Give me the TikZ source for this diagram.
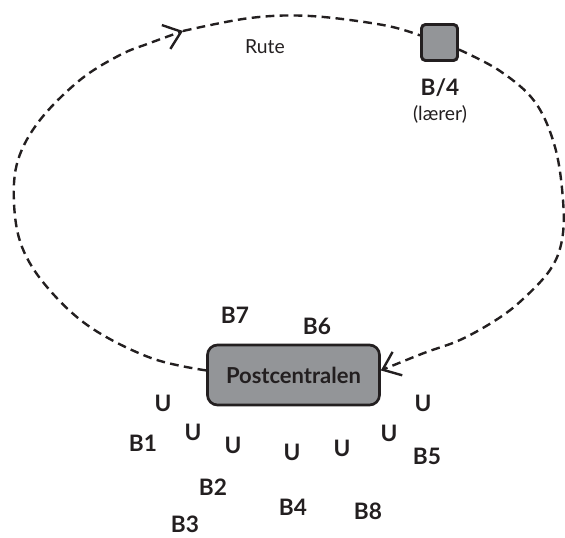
\documentclass[tikz,border=0pt]{standalone}
\usepackage{fontspec}
\setmainfont{Lato}
\usetikzlibrary{arrows.meta}
\definecolor{boxgray}{HTML}{939598}
\definecolor{ink}{HTML}{231F20}
\begin{document}
\begin{tikzpicture}[x=0.75pt,y=0.75pt,
  route/.style={draw=ink, dash pattern=on 6.5pt off 4pt, line width=1.8pt},
  tipend/.style={-{Straight Barb[length=12pt,width=19pt]}},
  lbl/.style={text=ink, font=\fontsize{17}{20}\selectfont\bfseries, inner sep=0pt},
  thin/.style={text=ink, font=\fontsize{14.5}{17}\selectfont, inner sep=0pt},
  pbox/.style={draw=ink, fill=boxgray, line width=2pt, rounded corners=7.5pt,
    minimum width=129pt, minimum height=45pt, text=ink,
    font=\fontsize{16.5}{19}\selectfont\bfseries},
  sqbox/.style={draw=ink, fill=boxgray, line width=2.2pt, rounded corners=3pt,
    minimum size=27pt, inner sep=0pt}]
\useasboundingbox (0,0) rectangle (565,537);

\node[pbox] (pc) at (293.5,162) {Postcentralen};
\node[sqbox] (sq) at (439.5,494.5) {};
\coordinate (t1) at (183,506);

% left half of the route, from the post office to the arrow
\draw[route,tipend] plot[smooth,tension=0.6] coordinates {(pc.177) (151,179) (90,210) (47,250) (22,290) (14,334) (18,377) (40,417) (80,457) (120,482) (150,494) (t1)};
\draw[route] plot[smooth,tension=0.6] coordinates {(t1) (250,519) (310,521) (383,512) (sq.160)};
% right half, from the teacher back to the post office
\draw[route,tipend] plot[smooth,tension=0.6] coordinates {(sq.-20) (500,466) (535,435) (555,390) (563,337) (562,297) (550,267) (522,237) (496,217) (460,197) (424,184) (pc.3)};

\node[thin] (rute) at (265,490) {Rute};
\node[lbl] (b4) at (440,449) {B/4};
\node[thin] (laerer) at (440,423) {(lærer)};

\node[lbl] (b7) at (235,222) {B7};
\node[lbl] (b6) at (317,211) {B6};

\node[lbl] (u1) at (163,134) {U};
\node[lbl] (u2) at (193,105) {U};
\node[lbl] (u3) at (233,92) {U};
\node[lbl] (u4) at (292,85) {U};
\node[lbl] (u5) at (342,89) {U};
\node[lbl] (u6) at (389,104) {U};
\node[lbl] (u7) at (423,134) {U};

\node[lbl] (b1) at (143,94) {B1};
\node[lbl] (b5) at (427,81) {B5};
\node[lbl] (b2) at (213,50) {B2};
\node[lbl] (b4b) at (293,30) {B4};
\node[lbl] (b8) at (368,26) {B8};
\node[lbl] (b3) at (185,12.5) {B3};
\end{tikzpicture}
\end{document}
